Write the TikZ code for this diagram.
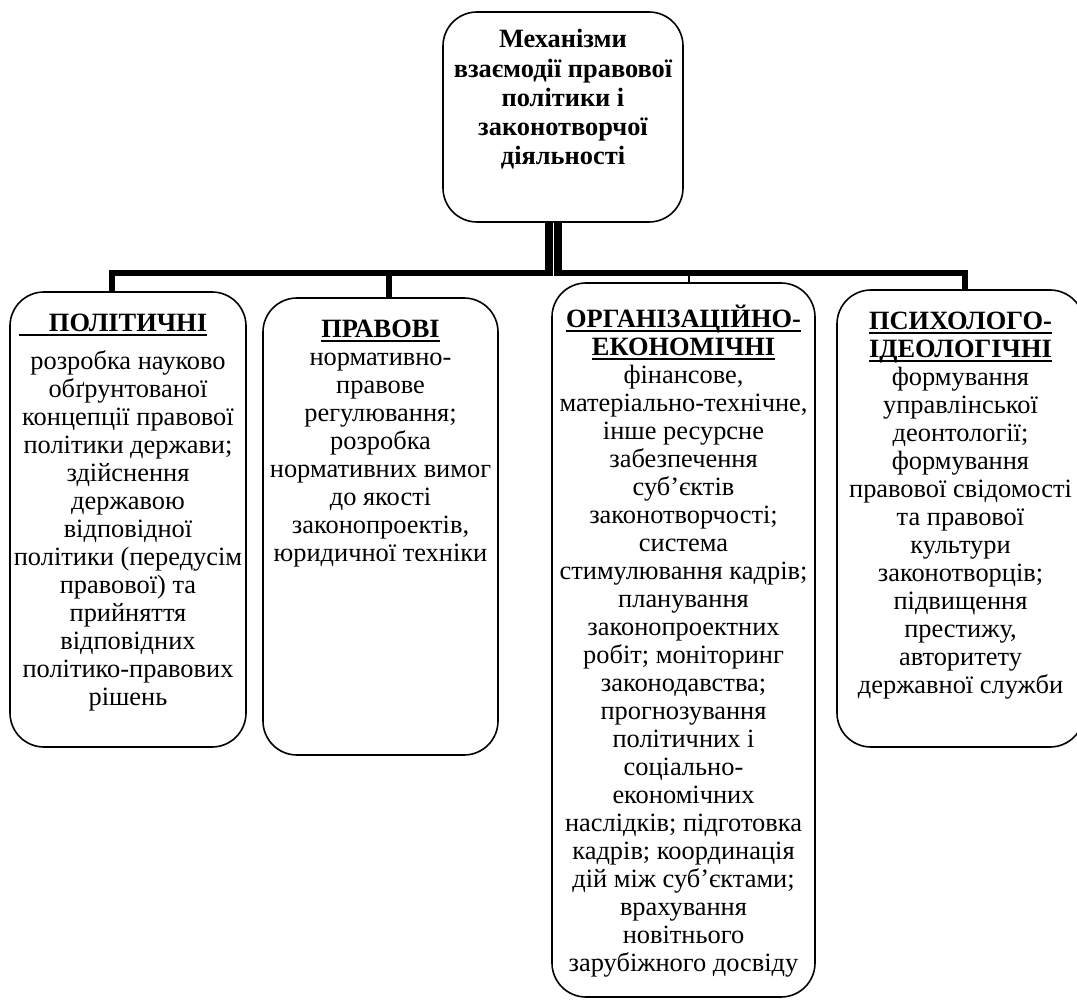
\documentclass[tikz,border=0pt]{standalone}
\usepackage{fontspec}
\setmainfont{Liberation Serif}
\usetikzlibrary{positioning}

% underlined heading
\newcommand\ulined[1]{\setbox0\hbox{#1}\rlap{\rule[-2.4pt]{\wd0}{1pt}}\box0}

\begin{document}
\begin{tikzpicture}[x=0.5pt,y=-0.5pt,
    box/.style={draw,rounded corners=17pt,line width=0.8pt,inner sep=0pt},
    txt/.style={anchor=north,align=center,inner sep=0pt,font=\fontsize{13.2}{14}\selectfont},
    bar/.style={line width=3pt}]
    \useasboundingbox (0,0) rectangle (1077,1000);
    % boxes
    \node[box,minimum width=120pt,minimum height=105pt] (top) at (563,117) {};
    \node[box,minimum width=118pt,minimum height=227.5pt] (pol) at (128,519.5) {};
    \node[box,minimum width=117.5pt,minimum height=228.5pt] (prav) at (380.5,526.5) {};
    \node[box,minimum width=131.5pt,minimum height=357pt] (org) at (683.5,640) {};
    \node[box,minimum width=123.5pt,minimum height=228.5pt] (psy) at (960.5,518.5) {};
    % texts
    \node[txt,font=\bfseries\fontsize{13.2}{14.6}\selectfont] (toptxt) at ([yshift=-9pt]top.north)
        {Механізми\\взаємодії правової\\політики і\\законотворчої\\діяльності};
    \node[txt] (poltxt) at ([yshift=-11pt]pol.north)
        {\llap{\rule[-2.4pt]{15pt}{1pt}}\ulined{\textbf{ПОЛІТИЧНІ}}\\[5pt]
        розробка науково\\обґрунтованої\\концепції правової\\політики держави;\\здійснення\\державою\\відповідної\\політики (передусім\\правової) та\\прийняття\\відповідних\\політико-правових\\рішень};
    \node[txt] (pravtxt) at ([yshift=-11pt]prav.north)
        {\ulined{\textbf{ПРАВОВІ}}\\
        нормативно-\\правове\\регулювання;\\розробка\\нормативних вимог\\до якості\\законопроектів,\\юридичної техніки};
    \node[txt] (orgtxt) at ([yshift=-11pt]org.north)
        {\ulined{\textbf{ОРГАНІЗАЦІЙНО-}}\\\ulined{\textbf{ЕКОНОМІЧНІ}}\\
        фінансове,\\матеріально-технічне,\\інше ресурсне\\забезпечення\\суб’єктів\\законотворчості;\\система\\стимулювання кадрів;\\планування\\законопроектних\\робіт; моніторинг\\законодавства;\\прогнозування\\політичних і\\соціально-\\економічних\\наслідків; підготовка\\кадрів; координація\\дій між суб’єктами;\\врахування\\новітнього\\зарубіжного досвіду};
    \node[txt] (psytxt) at ([yshift=-11pt]psy.north)
        {\ulined{\textbf{ПСИХОЛОГО-}}\\\ulined{\textbf{ІДЕОЛОГІЧНІ}}\\
        формування\\управлінської\\деонтології;\\формування\\правової свідомості\\та правової\\культури\\законотворців;\\підвищення\\престижу,\\авторитету\\державної служби};
    % connectors
    \coordinate (hub) at (553,273);
    \draw[bar] ([xshift=-8pt]pol.north) |- (hub) -| ([xshift=2pt]psy.north);
    \draw[bar] ([xshift=4pt]prav.north) -- ([xshift=4pt]prav.north |- hub);
    \draw[line width=1pt] ([xshift=2.5pt]org.north) -- ([xshift=2.5pt]org.north |- hub);
    \draw[double=white,double distance=0.5pt,line width=4pt] (top.south -| hub) -- ([yshift=-1.5pt]hub);
\end{tikzpicture}
\end{document}
